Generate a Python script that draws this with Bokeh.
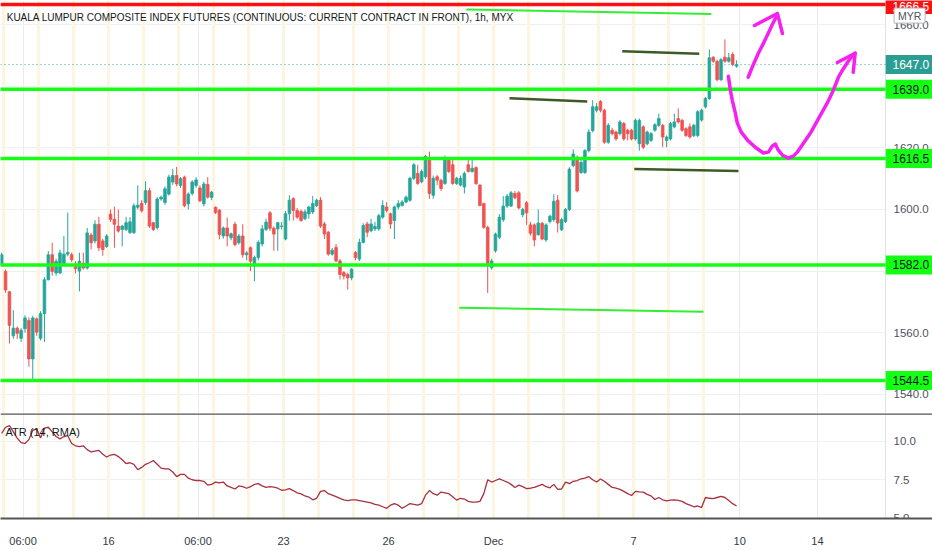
from bokeh.plotting import figure
from bokeh.models import (Range1d, FixedTicker, Span, Label, ColumnDataSource,
                          CustomJSTickFormatter)
from bokeh.layouts import column
from bokeh.embed import file_html
from bokeh.resources import INLINE
from bokeh.core.properties import value

FONT = "Liberation Sans"

TITLE = "KUALA LUMPUR COMPOSITE INDEX FUTURES (CONTINUOUS: CURRENT CONTRACT IN FRONT), 1h, MYX"

# ---- hourly OHLC (bar index 0..189) ----
opens = [1582.0, 1579.9, 1573.3, 1559.0, 1561.5, 1558.2, 1561.3, 1564.0, 1551.5, 1564.5,
         1558.2, 1566.2, 1577.2, 1585.3, 1579.4, 1579.4, 1582.5, 1585.5, 1585.3, 1581.5,
         1580.0, 1582.6, 1581.0, 1591.7, 1589.8, 1595.2, 1589.8, 1588.0, 1598.5, 1596.8,
         1594.6, 1593.5, 1593.5, 1592.5, 1592.5, 1600.7, 1602.0, 1602.3, 1606.1, 1595.7,
         1594.1, 1603.4, 1602.3, 1605.0, 1608.9, 1611.0, 1607.8, 1610.5, 1601.8, 1605.2,
         1607.8, 1607.0, 1601.8, 1608.1, 1603.9, 1600.7, 1599.8, 1591.4, 1594.0, 1590.8,
         1595.2, 1589.2, 1591.4, 1585.3, 1587.6, 1581.9, 1584.4, 1588.8, 1593.5, 1598.9,
         1593.9, 1593.7, 1594.5, 1590.4, 1598.6, 1603.5, 1599.7, 1599.4, 1597.0, 1598.6,
         1599.2, 1601.3, 1603.0, 1595.3, 1592.6, 1585.5, 1587.7, 1583.3, 1579.5, 1578.9,
         1577.8, 1586.0, 1583.9, 1589.3, 1595.3, 1593.1, 1593.7, 1593.7, 1597.5, 1600.8,
         1598.6, 1596.4, 1600.8, 1601.3, 1602.4, 1603.0, 1610.1, 1611.7, 1609.0, 1610.6,
         1616.6, 1604.6, 1610.6, 1609.5, 1608.4, 1616.1, 1614.5, 1608.4, 1607.9, 1607.3,
         1614.5, 1612.3, 1613.6, 1607.9, 1601.9, 1594.2, 1581.1, 1586.6, 1591.0, 1596.7,
         1601.1, 1601.1, 1605.2, 1605.4, 1598.3, 1602.2, 1595.0, 1595.0, 1591.8, 1595.5,
         1590.1, 1596.1, 1596.7, 1603.0, 1593.4, 1596.1, 1600.0, 1614.2, 1616.9, 1612.0,
         1612.0, 1619.1, 1625.6, 1632.2, 1635.0, 1632.2, 1621.8, 1625.7, 1625.1, 1624.6,
         1627.9, 1625.7, 1625.7, 1622.9, 1621.3, 1626.8, 1621.3, 1622.4, 1625.7, 1627.3,
         1627.3, 1622.4, 1622.9, 1626.8, 1629.5, 1628.9, 1626.2, 1626.8, 1624.0, 1624.0,
         1629.0, 1633.3, 1636.0, 1649.4, 1648.1, 1642.1, 1649.4, 1648.1, 1650.3, 1646.5]
highs = [1586.0, 1580.5, 1573.5, 1567.3, 1562.0, 1561.5, 1565.7, 1565.0, 1565.5, 1565.0,
         1567.0, 1578.0, 1586.5, 1589.2, 1584.0, 1587.0, 1591.4, 1599.0, 1586.0, 1583.2,
         1586.0, 1586.0, 1594.0, 1592.4, 1596.5, 1597.6, 1590.5, 1592.0, 1600.0, 1600.9,
         1600.0, 1595.0, 1597.6, 1597.5, 1602.0, 1607.8, 1603.0, 1609.2, 1607.0, 1596.0,
         1604.0, 1604.5, 1607.5, 1611.3, 1613.2, 1613.8, 1610.5, 1611.0, 1605.5, 1609.5,
         1610.5, 1607.8, 1609.0, 1610.5, 1606.0, 1601.0, 1600.1, 1594.5, 1597.4, 1592.5,
         1596.0, 1592.0, 1595.2, 1586.5, 1588.0, 1585.0, 1590.0, 1595.0, 1597.0, 1599.5,
         1594.5, 1596.0, 1595.9, 1599.5, 1604.6, 1604.0, 1600.5, 1600.0, 1600.0, 1601.2,
         1604.4, 1603.5, 1604.0, 1596.0, 1593.0, 1587.5, 1588.8, 1584.0, 1580.0, 1579.5,
         1581.0, 1586.5, 1590.5, 1595.5, 1596.0, 1597.0, 1596.0, 1598.6, 1603.0, 1602.4,
         1599.0, 1601.3, 1603.0, 1603.0, 1604.5, 1610.6, 1615.0, 1614.5, 1613.0, 1617.7,
         1618.8, 1611.0, 1611.2, 1610.0, 1617.5, 1616.6, 1616.1, 1610.6, 1611.0, 1612.3,
         1616.1, 1616.1, 1614.0, 1608.2, 1602.2, 1594.7, 1584.0, 1592.5, 1598.5, 1604.3,
         1605.0, 1606.0, 1606.0, 1606.0, 1600.5, 1602.7, 1596.0, 1595.5, 1600.0, 1596.0,
         1595.5, 1598.3, 1605.0, 1604.7, 1597.3, 1600.5, 1613.7, 1619.5, 1617.5, 1616.0,
         1619.6, 1626.0, 1635.5, 1634.5, 1635.5, 1632.7, 1628.0, 1626.5, 1625.6, 1629.0,
         1628.4, 1626.2, 1626.2, 1629.5, 1629.5, 1627.3, 1625.6, 1625.1, 1628.0, 1631.1,
         1627.8, 1624.0, 1628.4, 1631.1, 1632.8, 1629.4, 1626.7, 1627.9, 1627.8, 1632.2,
         1632.7, 1636.5, 1651.9, 1649.7, 1648.6, 1649.2, 1655.2, 1650.8, 1651.0, 1648.4]
lows = [1581.5, 1573.0, 1556.5, 1558.0, 1558.0, 1557.0, 1560.0, 1549.0, 1545.0, 1559.0,
        1557.5, 1557.0, 1577.0, 1578.5, 1578.5, 1579.0, 1582.0, 1584.8, 1583.0, 1579.3,
        1573.4, 1580.5, 1580.5, 1587.0, 1589.0, 1586.5, 1585.0, 1587.5, 1596.0, 1587.6,
        1592.5, 1588.0, 1593.0, 1592.0, 1592.0, 1600.0, 1599.0, 1601.5, 1594.0, 1593.0,
        1593.5, 1602.8, 1601.5, 1604.5, 1608.0, 1607.5, 1607.0, 1600.7, 1600.0, 1604.5,
        1607.0, 1602.3, 1601.0, 1603.5, 1603.0, 1598.5, 1590.3, 1590.5, 1588.0, 1590.0,
        1588.0, 1588.6, 1584.3, 1583.5, 1580.0, 1576.7, 1583.5, 1588.0, 1593.0, 1593.0,
        1586.6, 1586.6, 1593.5, 1590.0, 1596.4, 1596.4, 1597.0, 1596.0, 1596.5, 1597.0,
        1598.5, 1600.8, 1594.0, 1590.4, 1585.0, 1585.0, 1582.8, 1577.3, 1577.3, 1574.0,
        1577.0, 1583.5, 1583.3, 1589.0, 1591.0, 1592.6, 1593.0, 1593.0, 1597.0, 1599.0,
        1593.7, 1590.4, 1600.0, 1601.0, 1602.0, 1602.5, 1609.5, 1608.0, 1608.5, 1610.0,
        1603.5, 1603.5, 1607.9, 1606.0, 1608.0, 1611.8, 1608.0, 1608.0, 1607.5, 1605.2,
        1612.0, 1612.0, 1608.0, 1601.0, 1593.7, 1572.9, 1580.5, 1586.0, 1590.4, 1596.0,
        1600.5, 1600.8, 1603.3, 1600.0, 1597.5, 1595.0, 1591.5, 1588.0, 1591.5, 1590.0,
        1589.5, 1595.5, 1596.0, 1592.5, 1593.0, 1595.6, 1599.5, 1613.7, 1605.5, 1611.5,
        1611.5, 1618.5, 1625.0, 1631.5, 1631.5, 1621.3, 1621.3, 1624.0, 1622.3, 1624.0,
        1622.3, 1622.4, 1622.4, 1622.4, 1619.1, 1619.6, 1620.8, 1621.9, 1625.2, 1626.8,
        1620.2, 1620.2, 1622.4, 1626.3, 1627.9, 1625.2, 1623.5, 1623.0, 1623.5, 1623.5,
        1628.5, 1632.8, 1635.5, 1647.6, 1641.6, 1641.6, 1647.6, 1647.6, 1646.5, 1646.0]
closes = [1585.3, 1573.9, 1562.4, 1561.5, 1559.8, 1560.8, 1564.8, 1551.5, 1564.8, 1560.2,
          1566.2, 1577.2, 1585.3, 1579.9, 1583.2, 1585.9, 1585.5, 1586.0, 1583.7, 1580.8,
          1583.2, 1581.0, 1592.4, 1589.2, 1595.2, 1587.6, 1587.0, 1591.4, 1596.8, 1595.2,
          1593.0, 1594.6, 1595.7, 1596.0, 1601.2, 1601.4, 1599.6, 1606.1, 1594.6, 1593.5,
          1603.4, 1604.0, 1606.7, 1610.5, 1611.0, 1608.3, 1610.0, 1601.2, 1605.0, 1608.9,
          1609.6, 1602.8, 1608.3, 1604.0, 1605.6, 1599.0, 1591.9, 1594.0, 1591.4, 1592.1,
          1588.6, 1591.4, 1585.3, 1585.9, 1583.2, 1584.4, 1589.3, 1593.7, 1595.9, 1593.9,
          1592.0, 1595.7, 1594.6, 1598.6, 1603.0, 1599.7, 1597.5, 1596.4, 1599.2, 1600.8,
          1601.9, 1603.0, 1594.6, 1592.0, 1585.5, 1586.8, 1583.3, 1578.9, 1578.4, 1577.8,
          1580.6, 1584.4, 1589.3, 1594.8, 1592.6, 1595.3, 1594.5, 1598.0, 1601.3, 1599.7,
          1595.3, 1600.8, 1601.9, 1602.4, 1604.0, 1610.1, 1614.5, 1608.4, 1612.3, 1617.2,
          1605.2, 1610.1, 1609.5, 1606.8, 1616.6, 1612.3, 1608.4, 1610.1, 1610.1, 1611.7,
          1612.3, 1613.4, 1608.4, 1601.3, 1594.2, 1581.7, 1583.3, 1592.0, 1597.5, 1601.1,
          1604.3, 1605.4, 1603.8, 1600.5, 1600.0, 1598.9, 1592.3, 1590.1, 1595.6, 1590.4,
          1595.0, 1597.8, 1602.7, 1595.6, 1596.7, 1600.0, 1613.1, 1618.0, 1606.0, 1615.3,
          1619.1, 1625.1, 1633.3, 1633.3, 1632.2, 1621.8, 1627.3, 1624.6, 1622.9, 1628.4,
          1622.9, 1624.6, 1622.9, 1628.9, 1628.9, 1620.2, 1625.1, 1624.6, 1627.5, 1629.5,
          1623.5, 1623.5, 1627.9, 1628.4, 1628.4, 1625.7, 1624.0, 1623.5, 1627.3, 1631.7,
          1632.2, 1636.0, 1649.2, 1648.1, 1642.1, 1648.6, 1648.1, 1649.2, 1647.0, 1647.0]

# ---- ATR (14, RMA) ----
atr_vals = [10.5, 10.9, 11.0, 10.6, 10.2, 9.9, 9.85, 10.1, 10.7, 10.8,
            10.2, 10.85, 10.9, 10.6, 10.3, 10.15, 10.3, 10.35, 9.85, 9.7,
            9.65, 9.7, 9.45, 9.3, 9.35, 9.4, 9.15, 8.97, 9.1, 9.15,
            9.0, 8.8, 8.55, 8.6, 8.5, 8.15, 8.3, 8.5, 8.6, 8.75,
            8.5, 8.25, 8.2, 8.2, 8.0, 7.7, 7.85, 7.85, 7.6, 7.5,
            7.45, 7.45, 7.4, 7.15, 7.2, 7.35, 7.3, 7.35, 7.1, 7.0,
            6.9, 7.1, 7.05, 6.95, 7.05, 7.2, 7.25, 7.1, 7.0, 7.05,
            7.02, 6.95, 6.82, 6.85, 6.92, 6.8, 6.65, 6.58, 6.45, 6.38,
            6.2, 6.3, 6.75, 6.8, 6.6, 6.5, 6.4, 6.3, 6.2, 6.15,
            6.2, 6.2, 6.15, 6.1, 6.05, 6.0, 5.9, 5.85, 5.75, 5.65,
            5.85, 5.95, 5.85, 5.65, 5.8, 5.95, 5.9, 5.85, 5.95, 6.5,
            6.8, 6.6, 6.5, 6.7, 6.65, 6.6, 6.4, 6.18, 6.3, 6.25,
            6.1, 6.05, 6.05, 6.1, 6.6, 7.5, 7.35, 7.45, 7.55, 7.45,
            7.35, 7.2, 7.0, 7.15, 7.05, 6.92, 6.95, 7.0, 7.1, 7.2,
            7.05, 6.98, 7.2, 6.88, 6.9, 7.35, 7.25, 7.4, 7.45, 7.55,
            7.6, 7.7, 7.5, 7.35, 7.55, 7.4, 7.2, 7.0, 6.95, 6.88,
            6.75, 6.6, 6.48, 6.75, 6.72, 6.7, 6.55, 6.45, 6.22, 6.35,
            6.2, 6.13, 6.18, 6.2, 6.16, 6.1, 5.95, 5.85, 5.75, 5.8,
            5.7, 6.35, 6.3, 6.28, 6.35, 6.42, 6.35, 6.15, 5.95, 5.8]

# ---- time axis ----
tick_pos = [5.5, 27.5, 50.5, 72.5, 99.5, 126.5, 162.5, 189.8, 209.8]
tick_labels = ["06:00", "16", "06:00", "23", "26", "Dec", "7", "10", "14"]
session_starts = [0.5, 9.5, 18.5, 27.5, 36.5, 45.5, 54.5, 63.5, 72.5, 81.5, 90.5,
                  99.5, 108.5, 117.5, 126.5, 135.5, 144.5, 153.5, 162.5, 171.5, 180.5]

# ---- price levels & drawings (bar index, price) ----
support_levels = [1639.0, 1616.5, 1582.0, 1544.5]
resistance_level = 1666.5
last_price = 1647.0
price_ticks = [1540.0, 1560.0, 1580.0, 1600.0, 1620.0, 1640.0, 1660.0]
price_tick_labels = [1540.0, 1560.0, 1600.0, 1620.0, 1660.0]   # others hidden by badges
atr_ticks = [5.0, 7.5, 10.0]

lime_lines = [([119.5, 182.5], [1664.9, 1663.4]),
              ([117.7, 180.5], [1568.1, 1566.8])]
olive_lines = [([130.6, 150.6], [1636.1, 1635.0]),
               ([159.6, 179.4], [1651.3, 1650.5]),
               ([162.7, 189.5], [1613.1, 1612.5])]
arrow1_x = [192.0, 193.1, 194.6, 195.9, 196.9, 198.2, 199.5]
arrow1_y = [1642.9, 1646.4, 1650.7, 1653.9, 1656.5, 1660.0, 1663.3]
arrow1_head_x = [193.6, 199.5, 200.8]
arrow1_head_y = [1659.7, 1663.6, 1657.1]
curve_x = [186.9, 187.4, 187.9, 188.7, 189.2, 190.2, 191.8, 193.8, 195.9, 197.2, 198.2,
           199.0, 199.7, 200.8, 202.3, 203.6, 204.6, 206.2, 208.0, 210.0, 212.3, 213.9,
           215.2, 216.2, 217.5, 218.5, 219.5]
curve_y = [1643.2, 1638.7, 1635.4, 1631.2, 1628.0, 1625.1, 1622.5, 1620.2, 1618.3, 1618.6,
           1620.6, 1621.2, 1619.3, 1617.6, 1616.7, 1617.3, 1618.6, 1621.5, 1624.8, 1629.3,
           1634.5, 1638.7, 1642.9, 1645.1, 1647.7, 1649.4, 1650.7]
arrow2_head_x = [214.9, 219.5, 219.0]
arrow2_head_y = [1647.7, 1650.7, 1644.5]

UP = "#26a69a"
DOWN = "#ef5350"
GREEN = "#14ff14"
STRIPE = "#fcf5e1"
FW = 932          # frame width incl. price-scale strip
X0 = -0.3         # left edge (bars)
XA = 227.3        # price-scale boundary (bars)
XE = 239.39       # right edge (bars)
XM = (XA + XE) / 2

idx = list(range(len(opens)))
cols = [UP if c >= o else DOWN for o, c in zip(opens, closes)]
src = ColumnDataSource(dict(x=idx, o=opens, h=highs, l=lows, c=closes,
                            top=[max(o, c) for o, c in zip(opens, closes)],
                            bot=[min(o, c) for o, c in zip(opens, closes)],
                            col=cols))

x_range = Range1d(X0, XE)


def base_fig(h, yr, bottom=0):
    f = figure(frame_width=FW, frame_height=h, x_range=x_range, y_range=yr,
               y_axis_location=None, x_axis_location=("below" if bottom else None),
               output_backend="svg", toolbar_location=None,
               min_border_left=0, min_border_right=0, min_border_top=0,
               min_border_bottom=bottom)
    f.background_fill_color = "white"
    f.border_fill_color = "white"
    f.outline_line_color = None
    f.xgrid.ticker = FixedTicker(ticks=tick_pos)
    f.xgrid.grid_line_color = "#ebebeb"
    f.ygrid.grid_line_color = "#f0f0f0"
    return f


def price_scale(f, ticks, lo, hi, fmt):
    # white strip for the price scale, its border and its tick labels
    f.quad(left=XA, right=XE, top=hi, bottom=lo, fill_color="white", line_color=None)
    f.segment(x0=XA, y0=lo, x1=XA, y1=hi, line_color="#e0e3eb", line_width=1)
    f.text(x=[XA] * len(ticks), y=ticks, text=[fmt.format(t) for t in ticks],
           x_offset=8, text_font=value(FONT), text_font_size=value("11.5px"),
           text_color="#50535e", text_baseline="middle", text_align="left")


def price_box(f, prices, texts, bg, fg, y_off=0):
    f.rect(x=[XM] * len(prices), y=prices, width=XE - XA - 0.1, height=19,
           height_units="screen", fill_color=bg, line_color=None)
    f.text(x=[XA] * len(prices), y=prices, text=texts, x_offset=7, y_offset=y_off,
           text_font=value(FONT), text_font_size=value("12px"), text_color=fg,
           text_baseline="middle", text_align="left")


# ---- main pane ----
p = base_fig(413, Range1d(1533.8, 1667.8))
p.ygrid.ticker = FixedTicker(ticks=price_ticks)

p.vbar(x=session_starts, width=0.8, top=1700, bottom=1500, fill_color=STRIPE,
       line_color=None)
p.segment(x0="x", y0="l", x1="x", y1="h", color="col", line_width=1, source=src)
p.vbar(x="x", width=0.68, top="top", bottom="bot", fill_color="col", line_color="col",
       line_width=0.8, source=src)

price_scale(p, price_tick_labels, 1500, 1700, "{:.1f}")

# horizontal levels (up to the price scale)
p.segment(x0=X0, x1=XA, y0=resistance_level, y1=resistance_level, line_color="#ff1010",
          line_width=3.5)
p.segment(x0=[X0] * 4, x1=[XA] * 4, y0=support_levels, y1=support_levels,
          line_color=GREEN, line_width=3.5)
p.segment(x0=X0, x1=XA, y0=last_price, y1=last_price, line_color=UP, line_width=1,
          line_dash="1 3")

for xs, ys in lime_lines:
    p.line(xs, ys, line_color="#33ee33", line_width=2)
for xs, ys in olive_lines:
    p.line(xs, ys, line_color="#3b5a25", line_width=2.5)

MAG = "#f521f0"
for xs, ys in [(arrow1_x, arrow1_y), (arrow1_head_x, arrow1_head_y),
               (curve_x, curve_y), (arrow2_head_x, arrow2_head_y)]:
    p.line(xs, ys, line_color=MAG, line_width=3.5, line_join="round", line_cap="round")

# price-scale badges
price_box(p, [resistance_level], ["1666.5"], "#ff1010", "white", y_off=2)
price_box(p, [last_price], ["1647.0"], "#2b9e93", "white")
price_box(p, support_levels, [f"{lv:.1f}" for lv in support_levels], GREEN, "#131722")
p.rect(x=[XA + 6.2], y=[1662.9], width=31, height=15, width_units="screen",
       height_units="screen", fill_color="white", line_color="#b2b5be", line_width=1)
p.text(x=[XA + 6.2], y=[1662.9], text=["MYR"], text_font=value(FONT),
       text_font_size=value("10.5px"), text_color="#50535e", text_baseline="middle",
       text_align="center")

p.add_layout(Label(x=1.3, y=1662.3, text=TITLE, text_font=FONT, text_font_size="10px",
                   text_color="#131722", text_baseline="middle"))

# ---- ATR pane ----
a = base_fig(105, Range1d(4.99, 11.79), bottom=32)
a.ygrid.ticker = FixedTicker(ticks=atr_ticks)
a.xaxis.ticker = FixedTicker(ticks=tick_pos)
a.xaxis.formatter = CustomJSTickFormatter(
    args=dict(pos=tick_pos, lab=tick_labels),
    code="for (let i = 0; i < pos.length; i++) { if (Math.abs(pos[i] - tick) < 0.01) return lab[i]; } return '';")
a.xaxis.major_label_text_font = FONT
a.xaxis.major_label_text_font_size = "11px"
a.xaxis.major_label_text_color = "#363a45"
a.xaxis.axis_line_color = "#555555"
a.xaxis.axis_line_width = 2
a.xaxis.major_tick_line_color = None
a.xaxis.minor_tick_line_color = None
a.xaxis.major_label_standoff = 10

a.vbar(x=session_starts, width=0.8, top=20, bottom=0, fill_color=STRIPE, line_color=None)
a.line(idx, atr_vals, line_color="#a8303f", line_width=1.3)
price_scale(a, atr_ticks, 0, 20, "{:.1f}")
a.add_layout(Span(location=11.77, dimension="width", line_color="#555555", line_width=2))
a.add_layout(Label(x=1.0, y=10.56, text="ATR (14, RMA)", text_font=FONT,
                   text_font_size="11px", text_color="#131722", text_baseline="middle"))

layout = column(p, a, spacing=0)
open("out.html", "w").write(file_html(layout, INLINE))
